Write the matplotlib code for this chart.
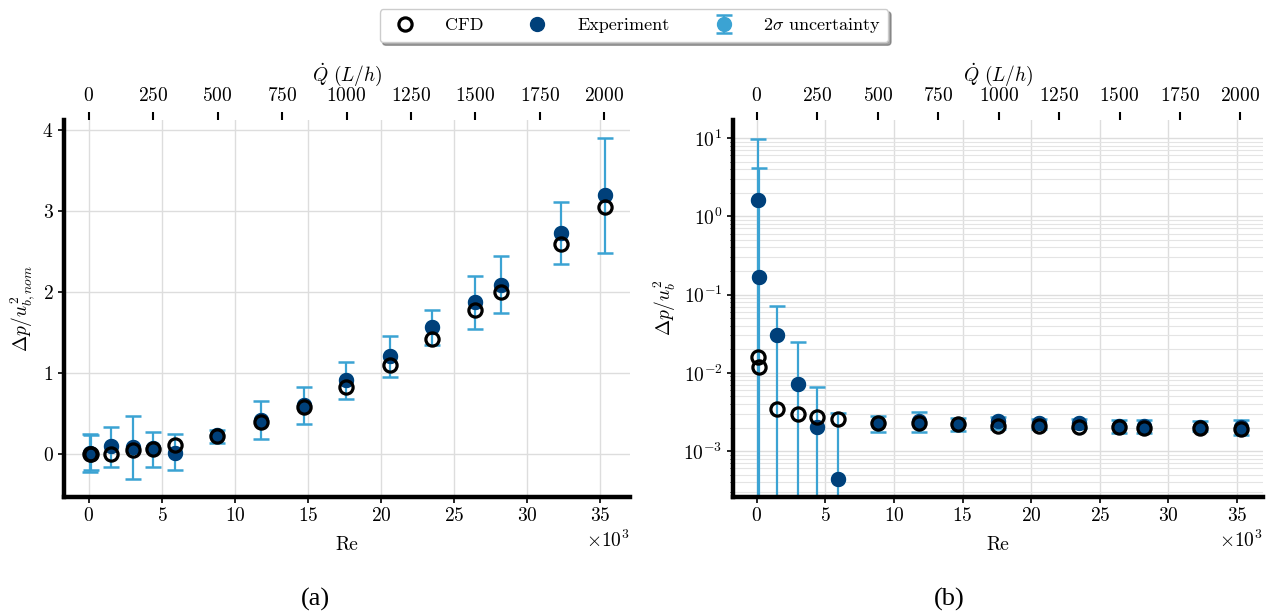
import numpy as np
import matplotlib
matplotlib.use("Agg")
import matplotlib.pyplot as plt

plt.rcParams['font.family'] = 'serif'
plt.rcParams['font.serif'] = ['cmr10']
plt.rcParams['mathtext.fontset'] = 'cm'
plt.rcParams['axes.formatter.use_mathtext'] = True
plt.rcParams['axes.unicode_minus'] = True

# Reynolds numbers of the measured points
re = np.array([90, 140, 1500, 3000, 4400, 5900, 8800, 11800, 14700,
               17600, 20600, 23500, 26400, 28200, 32300, 35300])

# (a) pressure drop scaled with nominal bulk velocity
exp_a = [0.01, 0.0, 0.10, 0.09, 0.07, 0.01, 0.23, 0.42, 0.60,
         0.91, 1.21, 1.56, 1.88, 2.09, 2.73, 3.19]
cfd_a = [0.0, 0.0, 0.0, 0.045, 0.06, 0.115, 0.22, 0.39, 0.58,
         0.82, 1.10, 1.42, 1.77, 2.00, 2.59, 3.05]
lo_a = [-0.22, -0.20, -0.16, -0.31, -0.16, -0.20, 0.13, 0.19, 0.37,
        0.68, 0.95, 1.34, 1.54, 1.74, 2.34, 2.48]
hi_a = [0.25, 0.23, 0.33, 0.47, 0.27, 0.25, 0.29, 0.65, 0.83,
        1.14, 1.46, 1.78, 2.20, 2.44, 3.11, 3.90]

# (b) pressure drop scaled with actual bulk velocity
exp_b = [1.59, 0.168, 0.030, 0.0073, 0.00205, 0.00044, 0.0023, 0.0024, 0.0022,
         0.0024, 0.0023, 0.0023, 0.0021, 0.0021, 0.00205, 0.00205]
cfd_b = [0.016, 0.0117, 0.0035, 0.00294, 0.00274, 0.00257, 0.0023, 0.00226, 0.0022,
         0.0021, 0.0021, 0.00205, 0.00203, 0.0020, 0.00198, 0.00193]
lo_b = [-5.0, -1.5, -0.02, -0.02, -0.002, -0.002, 0.00177, 0.00177, 0.00182,
        0.0019, 0.0019, 0.0020, 0.0017, 0.0017, 0.0018, 0.0016]
hi_b = [9.6, 4.15, 0.071, 0.0249, 0.0065, 0.0031, 0.0028, 0.00312, 0.00266,
        0.00274, 0.0026, 0.0026, 0.0025, 0.0025, 0.0024, 0.0025]

q_ticks = np.arange(0, 2001, 250)
RE_PER_Q = 17.63   # Re per L/h

dark = '#00407a'
light = '#3ba3d3'
FS = 14


def re2q(x):
    return x / RE_PER_Q


def q2re(x):
    return x * RE_PER_Q


def draw(ax, exp, cfd, lo, hi):
    exp = np.array(exp)
    yerr = [exp - np.array(lo), np.array(hi) - exp]
    eb = ax.errorbar(re, exp, yerr=yerr, fmt='o', color=light, ms=10,
                     elinewidth=1.6, capsize=6, capthick=1.8, zorder=2)
    e, = ax.plot(re, exp, 'o', color=dark, ms=10, zorder=3)
    c, = ax.plot(re, cfd, 'o', mfc='none', mec='black', mew=2.3, ms=9.5, zorder=4)

    ax.grid(True, color='#dddddd', lw=1)
    ax.set_axisbelow(True)
    for s in ['top', 'right']:
        ax.spines[s].set_visible(False)
    for s in ['left', 'bottom']:
        ax.spines[s].set_linewidth(3.2)
    ax.tick_params(labelsize=FS, length=4, width=1.2)
    ax.set_xlabel('Re', fontsize=FS, labelpad=8)
    ax.ticklabel_format(style='sci', axis='x', scilimits=(3, 3))
    ax.xaxis.get_offset_text().set_fontsize(FS)
    ax.set_xticks(np.arange(0, 35001, 5000))

    top = ax.secondary_xaxis('top', functions=(re2q, q2re))
    top.set_xticks(q_ticks)
    top.spines['top'].set_visible(False)
    top.tick_params(labelsize=FS, length=6, width=1.5, pad=5)
    top.set_xlabel(r'$\dot{Q}\ (L/h)$', fontsize=FS, labelpad=4)
    return c, e, eb


fig = plt.figure(figsize=(12.68, 6.15), dpi=100)
ax1 = fig.add_axes([0.0505, 0.192, 0.446, 0.613])
ax2 = fig.add_axes([0.578, 0.192, 0.418, 0.613])

c, e, eb = draw(ax1, exp_a, cfd_a, lo_a, hi_a)
ax1.set_xlim(-1700, 37000)
ax1.set_ylim(-0.53, 4.12)
ax1.set_yticks([0, 1, 2, 3, 4])
ax1.set_ylabel(r'$\Delta p/u_{b,nom}^2$', fontsize=FS)

draw(ax2, exp_b, cfd_b, lo_b, hi_b)
ax2.set_yscale('log')
ax2.set_xlim(-1750, 36900)
ax2.set_ylim(2.6e-4, 17)
ax2.grid(True, which='minor', axis='y', color='#e4e4e4', lw=0.8)
ax2.set_ylabel(r'$\Delta p/u_b^2$', fontsize=FS)

fig.legend([c, e, eb], ['CFD', 'Experiment', r'$2\sigma$ uncertainty'],
           loc='upper center', bbox_to_anchor=(0.5, 1.0), ncol=3,
           fontsize=13, shadow=True, fancybox=True, columnspacing=2.0,
           handletextpad=1.2, borderpad=0.4)

fig.text(0.2485, 0.015, '(a)', fontsize=19, family='Liberation Serif', ha='center')
fig.text(0.749, 0.015, '(b)', fontsize=19, family='Liberation Serif', ha='center')

fig.savefig('out.png', dpi=100)
